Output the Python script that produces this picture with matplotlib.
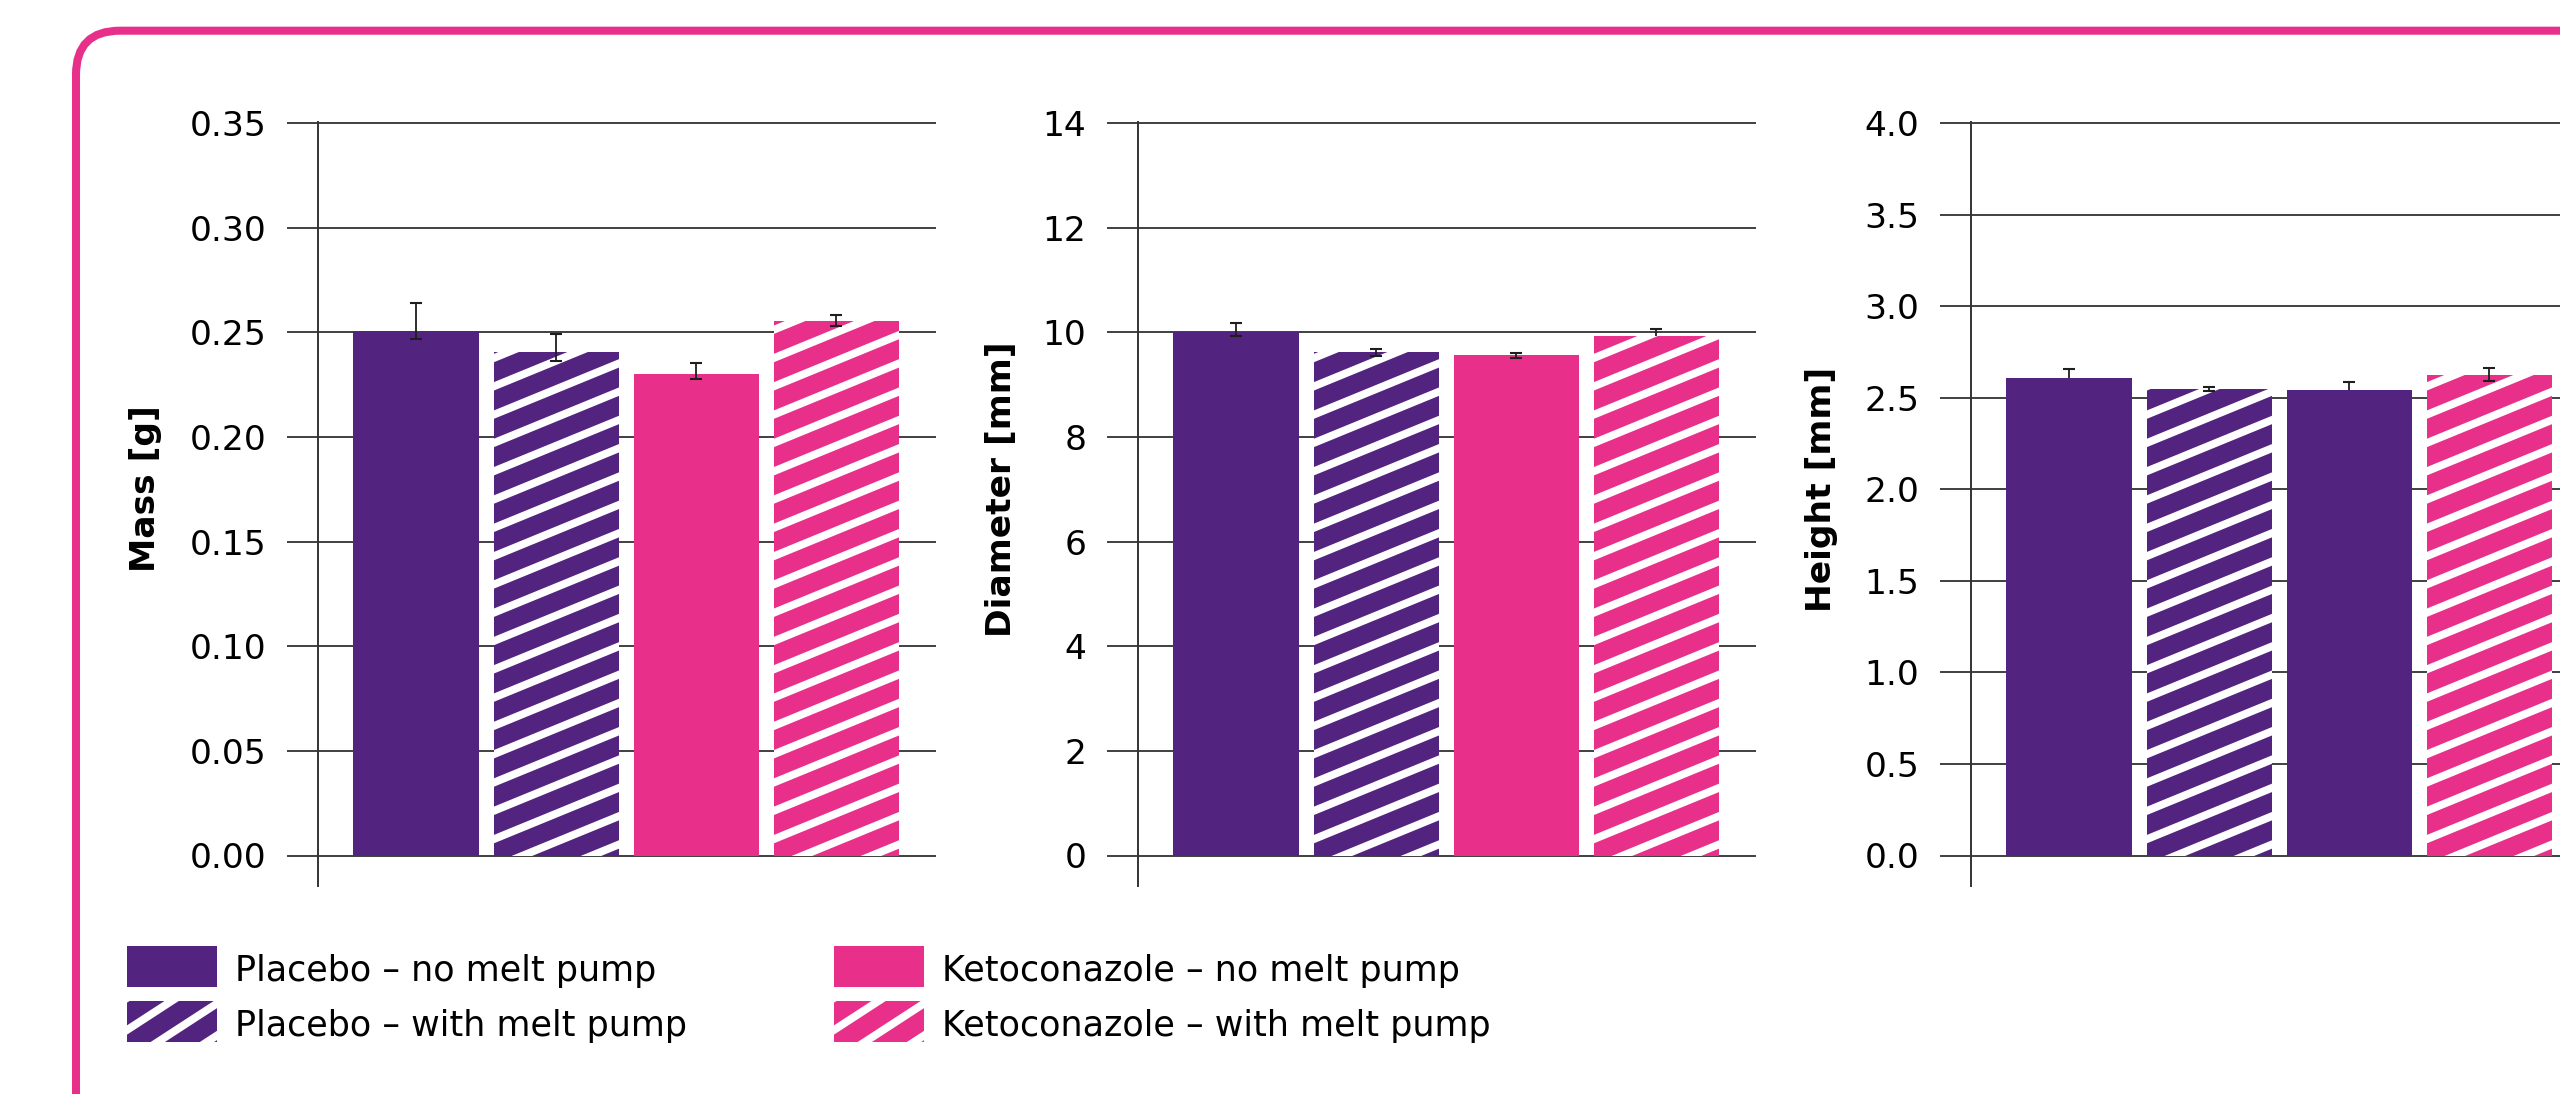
import numpy as np
import matplotlib
matplotlib.use("Agg")
import matplotlib.pyplot as plt
from matplotlib.patches import Rectangle, FancyBboxPatch
from matplotlib.collections import LineCollection
from matplotlib.transforms import IdentityTransform

# ---- data -------------------------------------------------------------
groups = ["Placebo \u2013 no melt pump", "Placebo \u2013 with melt pump",
          "Ketoconazole \u2013 no melt pump", "Ketoconazole \u2013 with melt pump"]

mass_g = [0.2506, 0.2405, 0.2300, 0.2554]
mass_err_minus = [0.0040, 0.0041, 0.0022, 0.0024]
mass_err_plus = [0.0134, 0.0086, 0.0054, 0.0027]

diameter_mm = [10.00, 9.62, 9.56, 9.92]
diameter_err_minus = [0.08, 0.08, 0.06, 0.0]
diameter_err_plus = [0.17, 0.07, 0.05, 0.15]

height_mm = [2.608, 2.546, 2.542, 2.626]
height_err_minus = [0.0, 0.009, 0.0, 0.034]
height_err_plus = [0.049, 0.014, 0.041, 0.037]

# ---- style ------------------------------------------------------------
PURPLE = "#52247F"
PINK = "#E8308A"
GRID = "#404040"
FS = 24.8
FS_LEG = 25.2
W, H, DPI = 2560, 1094, 100

plt.rcParams["font.family"] = ["DejaVu Sans"]

group_colors = [PURPLE, PURPLE, PINK, PINK]
group_hatched = [False, True, False, True]

panels = [
    dict(label="Mass [g]", vals=mass_g, lo=mass_err_minus, hi=mass_err_plus,
         ymax=0.35, step=0.05, fmt="{:.2f}", left=318, label_x=145,
         colors=[PURPLE, PURPLE, PINK, PINK]),
    dict(label="Diameter [mm]", vals=diameter_mm, lo=diameter_err_minus,
         hi=diameter_err_plus, ymax=14, step=2, fmt="{:.0f}", left=1138,
         label_x=1002, colors=[PURPLE, PURPLE, PINK, PINK]),
    dict(label="Height [mm]", vals=height_mm, lo=height_err_minus,
         hi=height_err_plus, ymax=4.0, step=0.5, fmt="{:.1f}", left=1971,
         label_x=1821, colors=[PURPLE, PURPLE, PURPLE, PINK]),
]

AX_W, AX_TOP, AX_BOT, ZERO_Y = 618, 122, 886, 855.5


def add_stripes(patch, parent, slope, period, lw):
    """Overlay white diagonal stripes (in pixel space) clipped to a patch."""
    bb = patch.get_window_extent()
    x0, y0, x1, y1 = bb.x0, bb.y0, bb.x1, bb.y1
    rise = slope * (x1 - x0)
    start = np.floor((y0 - rise) / period) * period - period
    offs = np.arange(start, y1 + period, period)
    segs = [[(x0 - 2, b - 2 * slope), (x1 + 2, b + rise + 2 * slope)]
            for b in offs]
    lc = LineCollection(segs, colors="white", linewidths=lw,
                        transform=IdentityTransform(),
                        zorder=patch.get_zorder() + 0.1)
    lc.set_clip_path(patch.get_path(), patch.get_transform())
    parent.add_artist(lc)


fig = plt.figure(figsize=(W / DPI, H / DPI), dpi=DPI)

# rounded frame
frame = FancyBboxPatch((76, -80), 2800, H - 30.7 + 80,
                       boxstyle="round,pad=0,rounding_size=44",
                       transform=IdentityTransform(), fill=False,
                       edgecolor=PINK, linewidth=5.8, zorder=0)
fig.add_artist(frame)

x = np.arange(len(groups))
for p in panels:
    ax = fig.add_axes([p["left"] / W, (H - AX_BOT) / H, AX_W / W,
                       (AX_BOT - AX_TOP) / H])
    ymax = p["ymax"]
    px_per_unit = (ZERO_Y - AX_TOP - 1) / ymax
    ax.set_ylim(-(AX_BOT - ZERO_Y) / px_per_unit, ymax + 1 / px_per_unit)
    ax.set_xlim(-0.70, 3.714)

    ticks = np.arange(0, ymax + p["step"] / 2, p["step"])
    ax.set_yticks(ticks)
    ax.set_yticklabels([p["fmt"].format(t) for t in ticks], fontsize=FS)
    ax.set_xticks([])
    ax.tick_params(axis="y", direction="out", length=22.3, width=1.4,
                   color=GRID, pad=15)
    ax.grid(axis="y", color=GRID, linewidth=1.4)
    ax.set_axisbelow(True)
    for s in ("top", "right", "bottom"):
        ax.spines[s].set_visible(False)
    ax.spines["left"].set_color("#333333")
    ax.spines["left"].set_linewidth(1.4)
    ax.patch.set_alpha(0)

    vals = np.array(p["vals"])
    lo = np.array(p["lo"])
    hi = np.array(p["hi"])
    bars = ax.bar(x, vals, width=0.893, color=p["colors"], linewidth=0,
                  zorder=2)
    for b, h in zip(bars, group_hatched):
        if h:
            add_stripes(b, ax, 0.41, 28.3, 5.6)

    ax.errorbar(x, vals, yerr=[lo, hi], fmt="none", ecolor="#1e1e1e",
                elinewidth=1.3, capsize=0, zorder=5)
    ax.plot(x, vals + hi, ls="none", marker="_", ms=8.6, mew=1.5,
            color="#1e1e1e", zorder=5)
    m = lo > 0
    ax.plot(x[m], (vals - lo)[m], ls="none", marker="_", ms=8.6, mew=1.5,
            color="#1e1e1e", zorder=5)

    ax.text(p["label_x"], H - 489, p["label"], transform=IdentityTransform(),
            rotation=90, ha="center", va="center", fontsize=FS,
            fontweight="bold")

# legend
col_patch_x = [127, 834]
col_text_x = [235, 942]
row_top = [946, 1001]
row_base = [981, 1036]
for i, (name, c, h) in enumerate(zip(groups, group_colors, group_hatched)):
    col, row = i // 2, i % 2
    rect = Rectangle((col_patch_x[col] / W, (H - row_top[row] - 41) / H),
                     90 / W, 41 / H, transform=fig.transFigure,
                     facecolor=c, edgecolor="none", zorder=3)
    fig.add_artist(rect)
    if h:
        add_stripes(rect, fig, 0.65, 32, 5.6)
    fig.text(col_text_x[col] / W, (H - row_base[row]) / H, name,
             fontsize=FS_LEG, ha="left", va="baseline")

fig.savefig("out.png", dpi=DPI)
